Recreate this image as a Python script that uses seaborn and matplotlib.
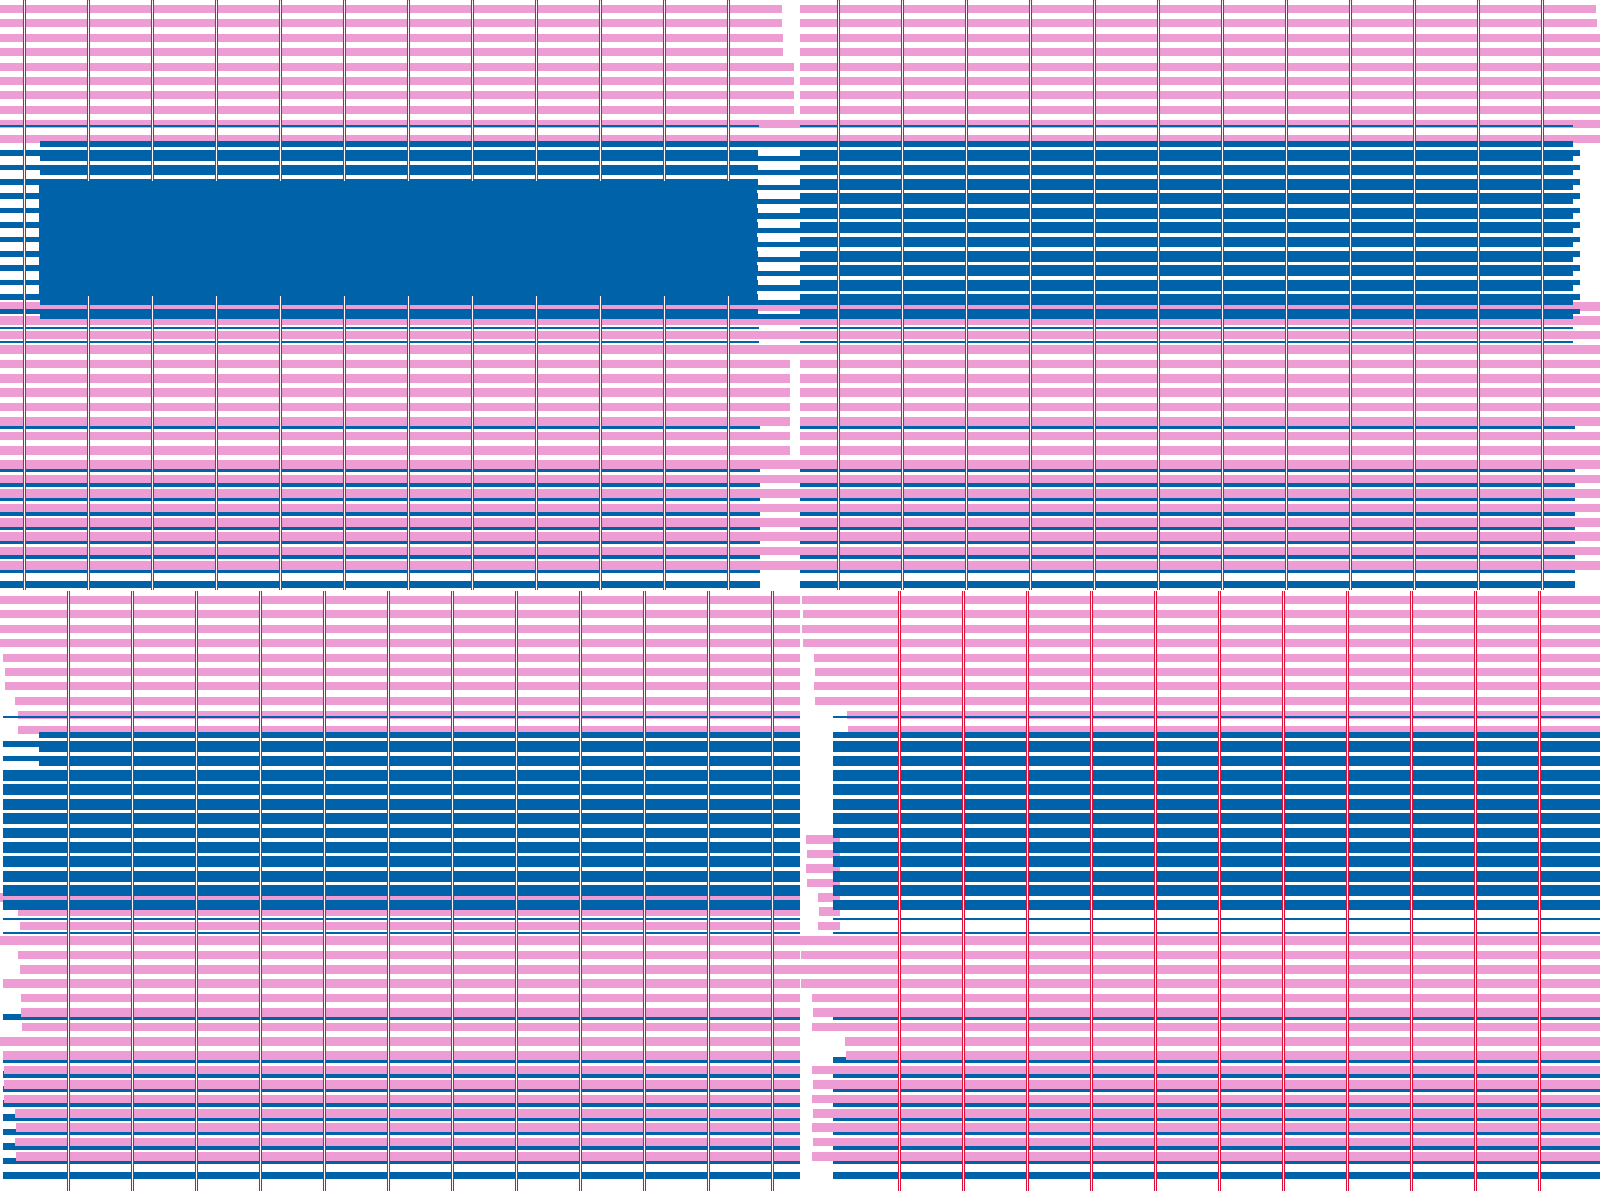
import numpy as np
import matplotlib
matplotlib.use("Agg")
import matplotlib.pyplot as plt
import seaborn as sns

sns.set_theme(style="white")

W, H = 1600, 1191
PINK = "#ED9DD4"
BLUE = "#0062A8"
RED = "#DC143C"

# row indices of each bar series (same layout in the four panels)
pink_rows = [0, 1, 2, 3, 4, 5, 6, 7, 8, 9]
pink_lo_rows = [20, 21, 22, 23, 24, 25, 26, 27, 28, 29, 30, 31, 32, 33, 34, 35, 36, 37, 38]
pink_lo_rows_br = [16, 17, 18, 19, 20, 21, 22, 23, 24, 25, 26, 27, 28, 29, 30, 31, 32, 33, 34, 35, 36, 37, 38]
blue_a_rows = [10, 11, 12, 13, 14, 15, 16, 17, 18, 19, 20, 21]
blue_b_rows = [9, 10, 11, 12, 13, 14, 15, 16, 17, 18, 19, 20, 21]
blue_fill_rows = [12, 13, 14, 15, 16, 17, 18, 19]
blue_thin_rows = [8, 22, 23]
blue_under_rows = [29, 32, 33, 34, 35, 36, 37, 38, 39, 40]
grid_ticks = [0, 1, 2, 3, 4, 5, 6, 7, 8, 9, 10, 11]

# top left panel (values in grid units)
tl_xlim = (-0.375, 12.125)
tl_pink_start = -0.375
tl_pink_end = [11.84, 11.84, 11.86, 11.86, 12.03, 12.03, 12.03, 12.03, 12.13, 12.13]
tl_pink_lo_start = -0.375
tl_pink_lo_end = [12.13, 12.13, 12.13, 12.13, 11.97, 11.97, 11.97, 11.97, 11.97, 11.97,
                  11.97, 12.13, 12.13, 12.13, 12.13, 12.13, 12.13, 12.13, 12.13]
tl_blue_a = (-0.375, 11.47)
tl_blue_b = (0.25, 12.13)
tl_blue_fill = (0.23, 11.45)
tl_blue_thin = (-0.375, 11.48)
tl_blue_under = (-0.375, 11.5)

# top right panel
tr_xlim = (-0.594, 11.906)
tr_pink_start = -0.594
tr_pink_end = [11.84, 11.86, 11.91, 11.91, 11.91, 11.91, 11.91, 11.91, 11.91, 11.91]
tr_pink_lo = (-0.594, 11.91)
tr_blue_a = (-0.594, 11.59)
tr_blue_b = (-0.594, 11.48)
tr_blue_thin = (-0.594, 11.48)
tr_blue_under = (-0.594, 11.52)

# bottom left panel
bl_xlim = (-1.0625, 11.4375)
bl_pink_start = [-1.06, -1.06, -1.06, -1.06, -1.02, -0.98, -0.98, -0.83, -0.78, -0.78]
bl_pink_end = 11.44
bl_pink_lo_start = [-1.06, -0.78, -0.75, -1.06, -0.78, -0.75, -1.02, -0.73, -0.73, -0.72,
                    -1.06, -1.02, -1.0, -1.0, -1.0, -0.83, -0.81, -0.83, -0.81]
bl_pink_lo_end = 11.44
bl_blue_a = (-1.02, 11.44)
bl_blue_b_start = [-0.45, -0.45, -0.45, -1.02, -1.02, -1.02, -1.02, -1.02, -1.02, -1.02,
                   -1.02, -1.02, -1.02]
bl_blue_b_end = 11.44
bl_blue_thin = (-1.02, 11.44)
bl_blue_under = (-1.02, 11.44)

# bottom right panel
br_xlim = (-1.547, 10.953)
br_pink_start = [-1.52, -1.5, -1.52, -1.5, -1.33, -1.31, -1.33, -1.31, -0.81, -0.8]
br_pink_end = 10.96
br_pink_lo_start = [-1.45, -1.44, -1.45, -1.44, -1.27, -1.25, -1.27, -1.55, -1.53, -1.55,
                    -1.53, -1.36, -1.34, -1.36, -0.84, -0.83, -1.36, -1.34, -1.36, -1.34,
                    -1.36, -1.34, -1.36]
br_pink_lo_end = [-0.92, -0.92, -0.92, -0.92, -0.92, -0.92, -0.92, 10.96, 10.96, 10.96,
                  10.96, 10.96, 10.96, 10.96, 10.96, 10.96, 10.96, 10.96, 10.96, 10.96,
                  10.96, 10.96, 10.96]
br_blue_a = (-1.03, 10.96)
br_blue_b = (-1.03, 10.96)
br_blue_thin = (-1.03, 10.96)
br_blue_under = (-1.03, 10.96)

# series looks: colour, bar height (rows), offset inside the row, layer
STYLE = {
    "pink": dict(color=PINK, height=0.55, offset=0.0, z=1),
    "pink_lo": dict(color=PINK, height=0.6, offset=0.65, z=1),
    "blue_a": dict(color=BLUE, height=0.4, offset=0.0, z=2),
    "blue_b": dict(color=BLUE, height=0.36, offset=0.38, z=2),
    "blue_fill": dict(color=BLUE, height=1.0, offset=0.45, z=4),
    "blue_thin": dict(color=BLUE, height=0.14, offset=0.15, z=2),
    "blue_under": dict(color=BLUE, height=0.45, offset=-0.05, z=0.5),
}

ROW_PX = 14.4
TOP_PAD = 9


def draw(ax, series, rows, start, end):
    st = STYLE[series]
    rows = np.asarray(rows, dtype=float)
    start = np.broadcast_to(np.asarray(start, dtype=float), rows.shape)
    end = np.broadcast_to(np.asarray(end, dtype=float), rows.shape)
    ax.barh(rows + st["offset"], end - start, left=start, height=st["height"],
            color=st["color"], linewidth=0, zorder=st["z"])


def panel(fig, x0, y0, w, h, xlim):
    ax = fig.add_axes([x0 / W, 1 - (y0 + h) / H, w / W, h / H])
    ax.set_xlim(*xlim)
    top = -TOP_PAD / ROW_PX
    ax.set_ylim(top + h / ROW_PX, top)
    ax.axis("off")
    for t in grid_ticks:
        if xlim[0] < t < xlim[1]:
            ax.axvline(t, color=RED, lw=2.2, zorder=3)
            ax.axvline(t, color="white", lw=0.7, zorder=3.05)
    return ax


fig = plt.figure(figsize=(W / 100, H / 100), dpi=100)

ax = panel(fig, 0, 0, 800, 590, tl_xlim)
draw(ax, "pink", pink_rows, tl_pink_start, tl_pink_end)
draw(ax, "pink_lo", pink_lo_rows, tl_pink_lo_start, tl_pink_lo_end)
draw(ax, "blue_a", blue_a_rows, *tl_blue_a)
draw(ax, "blue_b", blue_b_rows, *tl_blue_b)
draw(ax, "blue_fill", blue_fill_rows, *tl_blue_fill)
draw(ax, "blue_thin", blue_thin_rows, *tl_blue_thin)
draw(ax, "blue_under", blue_under_rows, *tl_blue_under)

ax = panel(fig, 800, 0, 800, 590, tr_xlim)
draw(ax, "pink", pink_rows, tr_pink_start, tr_pink_end)
draw(ax, "pink_lo", pink_lo_rows, *tr_pink_lo)
draw(ax, "blue_a", blue_a_rows, *tr_blue_a)
draw(ax, "blue_b", blue_b_rows, *tr_blue_b)
draw(ax, "blue_thin", blue_thin_rows, *tr_blue_thin)
draw(ax, "blue_under", blue_under_rows, *tr_blue_under)

ax = panel(fig, 0, 591, 800, 600, bl_xlim)
draw(ax, "pink", pink_rows, bl_pink_start, bl_pink_end)
draw(ax, "pink_lo", pink_lo_rows, bl_pink_lo_start, bl_pink_lo_end)
draw(ax, "blue_a", blue_a_rows, *bl_blue_a)
draw(ax, "blue_b", blue_b_rows, bl_blue_b_start, bl_blue_b_end)
draw(ax, "blue_thin", blue_thin_rows, *bl_blue_thin)
draw(ax, "blue_under", blue_under_rows, *bl_blue_under)

ax = panel(fig, 800, 591, 800, 600, br_xlim)
draw(ax, "pink", pink_rows, br_pink_start, br_pink_end)
draw(ax, "pink_lo", pink_lo_rows_br, br_pink_lo_start, br_pink_lo_end)
draw(ax, "blue_a", blue_a_rows, *br_blue_a)
draw(ax, "blue_b", blue_b_rows, *br_blue_b)
draw(ax, "blue_thin", blue_thin_rows, *br_blue_thin)
draw(ax, "blue_under", blue_under_rows, *br_blue_under)

fig.savefig("out.png", dpi=100, facecolor="white")
